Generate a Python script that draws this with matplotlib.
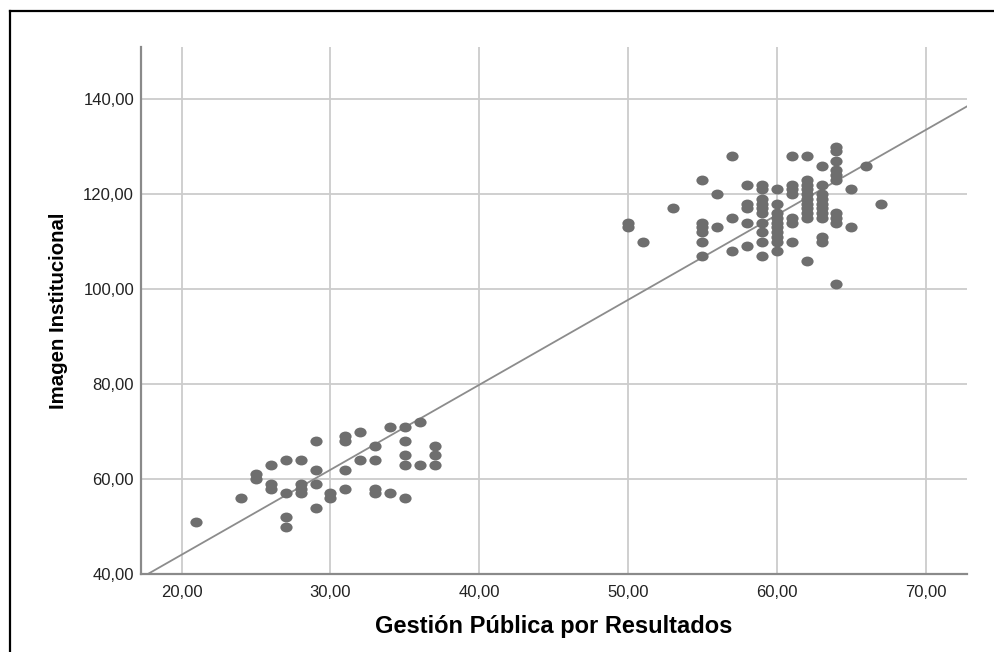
import numpy as np
import matplotlib
matplotlib.use("Agg")
import matplotlib.pyplot as plt
from matplotlib.path import Path
from matplotlib.transforms import Affine2D
from matplotlib.lines import Line2D
from matplotlib.ticker import FuncFormatter

# -----------------------------
# DATA
# -----------------------------
# lower cluster: Gestión Pública por Resultados -> Imagen Institucional
low_x = [21, 24, 25, 25, 26, 26, 26, 27, 27, 27, 27, 28, 28, 28, 28,
         29, 29, 29, 29, 30, 30, 31, 31, 31, 31, 32, 32, 33, 33, 33, 33,
         34, 34, 35, 35, 35, 35, 35, 36, 36, 37, 37, 37]
low_y = [51, 56, 61, 60, 63, 59, 58, 64, 57, 52, 50, 64, 59, 58, 57,
         68, 62, 59, 54, 57, 56, 69, 68, 62, 58, 70, 64, 67, 64, 58, 57,
         71, 57, 71, 68, 65, 63, 56, 72, 63, 67, 65, 63]

# upper cluster
high_x = [50, 50, 51, 53,
          55, 55, 55, 55, 55, 55,
          56, 56,
          57, 57, 57,
          58, 58, 58, 58, 58,
          59, 59, 59, 59, 59, 59, 59, 59, 59, 59,
          60, 60, 60, 60, 60, 60, 60, 60, 60, 60,
          61, 61, 61, 61, 61, 61, 61,
          62, 62, 62, 62, 62, 62, 62, 62, 62, 62, 62,
          63, 63, 63, 63, 63, 63, 63, 63, 63, 63,
          64, 64, 64, 64, 64, 64, 64, 64, 64, 64,
          65, 65, 66, 67]
high_y = [114, 113, 110, 117,
          123, 114, 113, 112, 110, 107,
          120, 113,
          128, 115, 108,
          122, 118, 117, 114, 109,
          122, 121, 119, 118, 117, 116, 114, 112, 110, 107,
          121, 118, 116, 115, 114, 113, 112, 111, 110, 108,
          128, 122, 121, 120, 115, 114, 110,
          128, 123, 122, 121, 120, 119, 118, 117, 116, 115, 106,
          126, 122, 120, 119, 118, 117, 116, 115, 111, 110,
          130, 129, 127, 125, 124, 123, 116, 115, 114, 101,
          121, 113, 126, 118]

x_ticks = [20, 30, 40, 50, 60, 70]
y_ticks = [40, 60, 80, 100, 120, 140]

x = np.array(low_x + high_x, dtype=float)
y = np.array(low_y + high_y, dtype=float)

# -----------------------------
# PLOT
# -----------------------------
plt.rcParams["font.family"] = ["Liberation Sans", "DejaVu Sans"]

fig = plt.figure(figsize=(9.95, 6.52), dpi=100)
ax = fig.add_axes([0.1417, 0.1196, 0.9722 - 0.1417, 0.9279 - 0.1196])

# slightly wide ellipse marker, like the stretched SPSS dots
ellipse = Affine2D().scale(1.24, 1.0).transform_path(Path.unit_circle())

ax.plot(x, y, linestyle="none", marker=ellipse, markersize=8.8,
        color="#6e6e6e", markeredgewidth=0, zorder=3)

# linear fit line across the whole x range
xmin, xmax = 17.27, 72.8
slope, intercept = np.polyfit(x, y, 1)
xl = np.array([xmin, xmax])
ax.plot(xl, intercept + slope * xl, color="#8c8c8c", linewidth=1.3, zorder=2)

ax.set_xlim(xmin, xmax)
ax.set_ylim(40, 151)
ax.set_xticks(x_ticks)
ax.set_yticks(y_ticks)

fmt = FuncFormatter(lambda v, p: f"{v:.2f}".replace(".", ","))
ax.xaxis.set_major_formatter(fmt)
ax.yaxis.set_major_formatter(fmt)

ax.grid(True, color="#cccccc", linewidth=1.3, zorder=0)
ax.set_axisbelow(True)
ax.tick_params(length=0, labelsize=12, colors="#222222")
ax.tick_params(axis="x", pad=8)
ax.tick_params(axis="y", pad=5)

for side in ["top", "right"]:
    ax.spines[side].set_visible(False)
for side in ["left", "bottom"]:
    ax.spines[side].set_color("#8a8a8a")
    ax.spines[side].set_linewidth(1.6)

ax.set_xlabel("Gestión Pública por Resultados", fontsize=17, fontweight="bold",
              labelpad=11)
ax.set_ylabel("Imagen Institucional", fontsize=14.7, fontweight="bold",
              labelpad=11)

# frame of the original screenshot (top and left only)
fig.add_artist(Line2D([0.0105, 1.0], [0.983, 0.983], color="black",
                      linewidth=1.6, transform=fig.transFigure))
fig.add_artist(Line2D([0.0105, 0.0105], [0.0, 0.983], color="black",
                      linewidth=1.6, transform=fig.transFigure))

fig.savefig("out.png", dpi=100)
